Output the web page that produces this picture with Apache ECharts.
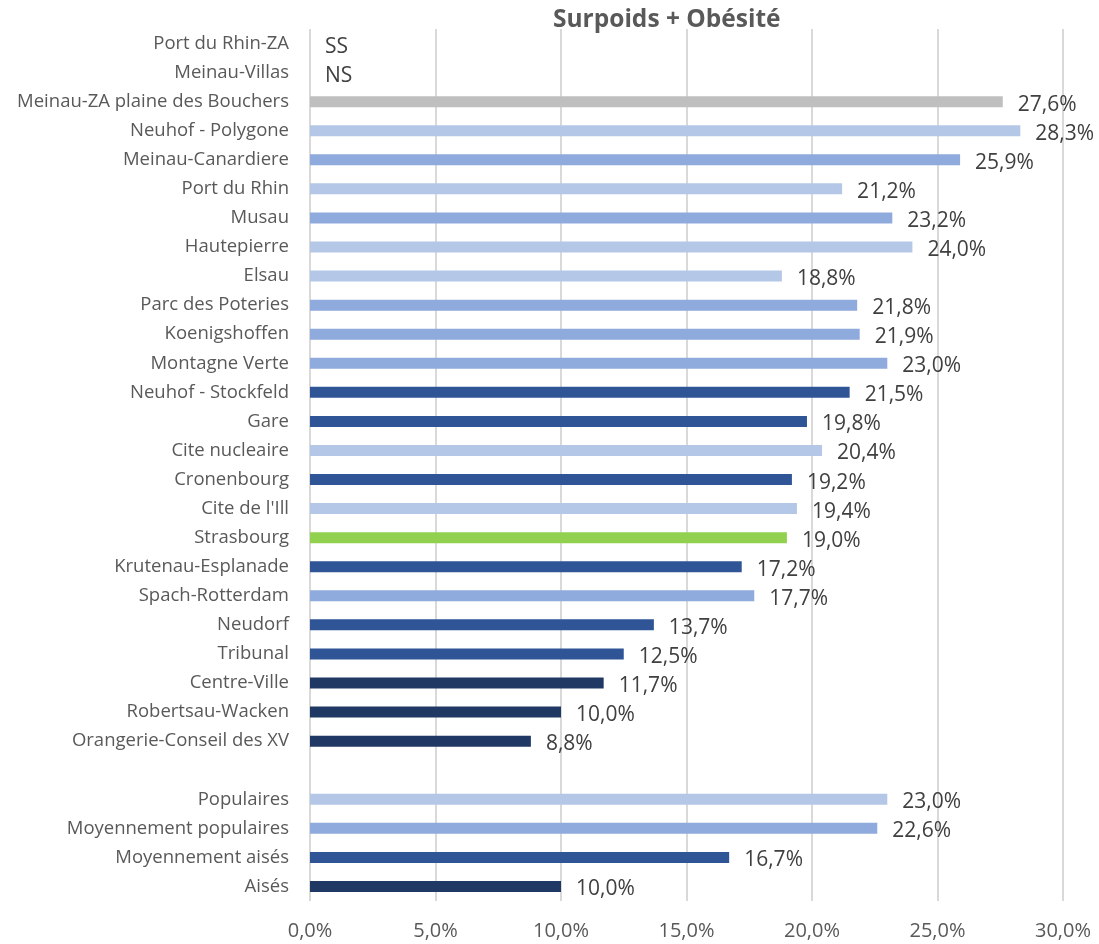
<!DOCTYPE html>
<html>
<head>
<meta charset="utf-8">
<script src="https://cdn.jsdelivr.net/npm/echarts@6/dist/echarts.min.js"></script>
<style>
  html, body { margin: 0; padding: 0; background: #fff; }
  #chart { width: 1099px; height: 944px; }
</style>
</head>
<body>
<div id="chart"></div>
<script>
// categories, top to bottom ('' = blank separator row)
const categories = [
  'Port du Rhin-ZA', 'Meinau-Villas', 'Meinau-ZA plaine des Bouchers', 'Neuhof - Polygone',
  'Meinau-Canardiere', 'Port du Rhin', 'Musau', 'Hautepierre', 'Elsau', 'Parc des Poteries',
  'Koenigshoffen', 'Montagne Verte', 'Neuhof - Stockfeld', 'Gare', 'Cite nucleaire',
  'Cronenbourg', "Cite de l'Ill", 'Strasbourg', 'Krutenau-Esplanade', 'Spach-Rotterdam',
  'Neudorf', 'Tribunal', 'Centre-Ville', 'Robertsau-Wacken', 'Orangerie-Conseil des XV',
  '', 'Populaires', 'Moyennement populaires', 'Moyennement aisés', 'Aisés'
]
const values = [
  0, 0, 27.6, 28.3, 25.9, 21.2, 23.2, 24.0, 18.8, 21.8, 21.9, 23.0, 21.5, 19.8, 20.4,
  19.2, 19.4, 19.0, 17.2, 17.7, 13.7, 12.5, 11.7, 10.0, 8.8, null, 23.0, 22.6, 16.7, 10.0
]
// text shown instead of a value (non significatif / secret statistique)
const notes = ['SS', 'NS']
const groups = [
  'none', 'none', 'gray', 'light', 'medium', 'light', 'medium', 'light', 'light', 'medium',
  'medium', 'medium', 'dark', 'dark', 'light', 'dark', 'light', 'green', 'dark', 'medium',
  'dark', 'dark', 'navy', 'navy', 'navy', 'none', 'light', 'medium', 'dark', 'navy'
]
const xTicks = [0, 5, 10, 15, 20, 25, 30]

const palette = {
  light: '#b4c7e7',
  medium: '#8faadc',
  dark: '#2f5597',
  navy: '#203864',
  gray: '#bfbfbf',
  green: '#92d050',
  none: '#ffffff',
}

const fmt = (v) => v.toFixed(1).replace('.', ',') + '%'

const chart = echarts.init(document.getElementById('chart'))

const option = {
  animation: false,
  title: {
    text: 'Surpoids + Obésité',
    left: 548,
    top: 3,
    textStyle: {
      fontFamily: 'Open Sans',
      fontSize: 24.5,
      fontWeight: 'bold',
      color: '#595959',
    },
  },
  grid: {
    left: 310,
    right: 36,
    top: 29,
    bottom: 43,
  },
  xAxis: {
    type: 'value',
    min: xTicks[0],
    max: xTicks[xTicks.length - 1],
    interval: 5,
    axisLine: { show: false },
    axisTick: { show: false },
    splitLine: { lineStyle: { color: '#d9d9d9', width: 2 } },
    axisLabel: {
      formatter: (v) => fmt(v),
      fontFamily: 'Open Sans',
      fontSize: 20,
      color: '#595959',
      margin: 20,
    },
  },
  yAxis: {
    type: 'category',
    inverse: true,
    data: categories,
    axisLine: { show: false },
    axisTick: { show: false },
    axisLabel: {
      fontFamily: 'Open Sans',
      fontSize: 18.5,
      color: '#595959',
      margin: 21,
    },
  },
  series: [
    {
      type: 'bar',
      barWidth: 11,
      data: values.map((v, i) => ({
        value: v,
        itemStyle: { color: palette[groups[i]] },
      })),
      label: {
        show: true,
        position: 'right',
        distance: 15,
        offset: [0, 3],
        fontFamily: 'Open Sans',
        fontSize: 21,
        color: '#404040',
        formatter: (p) => (p.dataIndex < notes.length ? notes[p.dataIndex] : fmt(p.value)),
      },
    },
  ],
}

chart.setOption(option)
</script>
</body>
</html>
